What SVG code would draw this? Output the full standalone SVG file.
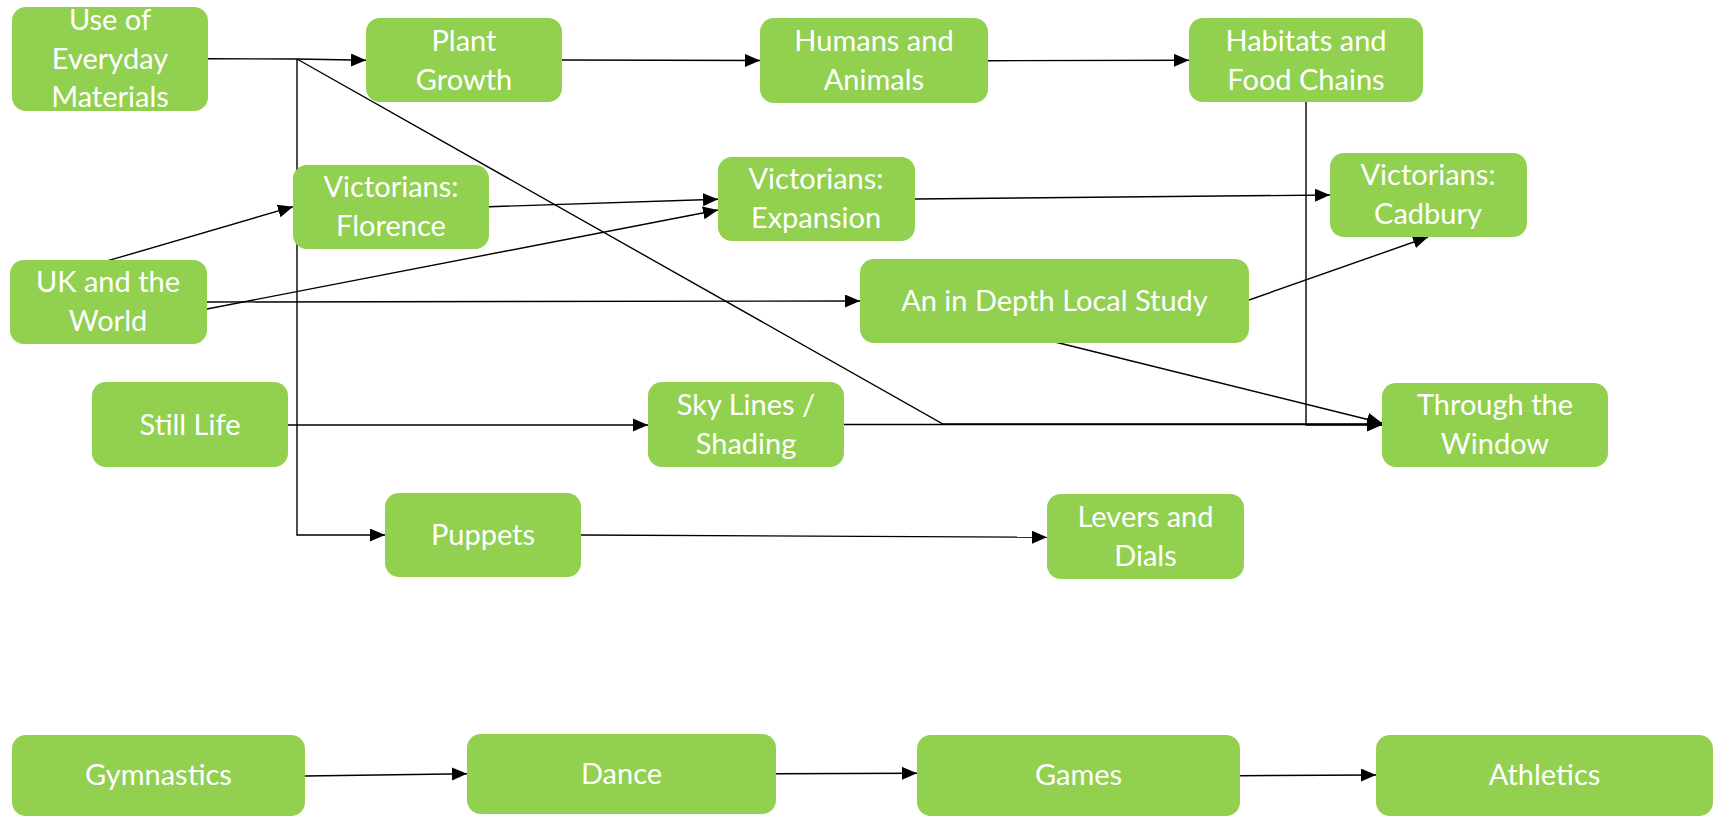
<svg xmlns="http://www.w3.org/2000/svg" width="1716" height="818" viewBox="0 0 1716 818">
<style>
.n rect{fill:#92D050;}
.n text{fill:#fff;font-family:Lato,"Open Sans",sans-serif;font-size:29px;text-anchor:middle;}
.c path{fill:none;stroke:#000;stroke-width:1.4;}
.a{marker-end:url(#ah);}
</style>
<defs>
<marker id="ah" markerUnits="userSpaceOnUse" markerWidth="16" markerHeight="14" refX="15" refY="6.5" orient="auto">
<path d="M0,0 L15,6.5 L0,13 z" fill="#000"/>
</marker>
</defs>
<g id="connectors" class="c">
<path class="a" d="M207,58.7 L297,59 L366,60.3"/>
<path class="a" d="M297,59 V535 H385"/>
<path class="a" d="M297,59 L943,424 H1382"/>
<path class="a" d="M562,60 L760,60.5"/>
<path class="a" d="M988,60.7 L1189,60.3"/>
<path class="a" d="M1306,102 V425 H1382"/>
<path class="a" d="M108,260.7 L293,206.7"/>
<path class="a" d="M207,309 L718,210"/>
<path class="a" d="M207,302 L860,301"/>
<path class="a" d="M489,206.7 L718,199.3"/>
<path class="a" d="M915,199 L1330,195"/>
<path class="a" d="M1249,300 L1428,237"/>
<path class="a" d="M1055,342 L1382,423"/>
<path class="a" d="M288,425 L648,425"/>
<path class="a" d="M844,424.5 L1382,424.5"/>
<path class="a" d="M581,535 L1047,537.3"/>
<path class="a" d="M305,776 L467,773.7"/>
<path class="a" d="M776,773.7 L917,773.3"/>
<path class="a" d="M1240,775.7 L1376,775"/>
</g>
<g id="n1" class="n"><rect x="12" y="7" width="196" height="104" rx="14"/><text x="110" y="30">Use of</text><text x="110" y="69">Everyday</text><text x="110" y="107">Materials</text></g>
<g id="n2" class="n"><rect x="366" y="18" width="196" height="84" rx="14"/><text x="464" y="51">Plant</text><text x="464" y="90">Growth</text></g>
<g id="n3" class="n"><rect x="760" y="18" width="228" height="85" rx="14"/><text x="874" y="51">Humans and</text><text x="874" y="90">Animals</text></g>
<g id="n4" class="n"><rect x="1189" y="18" width="234" height="84" rx="14"/><text x="1306" y="51">Habitats and</text><text x="1306" y="90">Food Chains</text></g>
<g id="n5" class="n"><rect x="293" y="165" width="196" height="84" rx="14"/><text x="391" y="197">Victorians:</text><text x="391" y="236">Florence</text></g>
<g id="n6" class="n"><rect x="718" y="157" width="197" height="84" rx="14"/><text x="816" y="189">Victorians:</text><text x="816" y="228">Expansion</text></g>
<g id="n7" class="n"><rect x="1330" y="153" width="197" height="84" rx="14"/><text x="1428" y="185">Victorians:</text><text x="1428" y="224">Cadbury</text></g>
<g id="n8" class="n"><rect x="10" y="260" width="197" height="84" rx="14"/><text x="108" y="292">UK and the</text><text x="108" y="331">World</text></g>
<g id="n9" class="n"><rect x="860" y="259" width="389" height="84" rx="14"/><text x="1054.5" y="311">An in Depth Local Study</text></g>
<g id="n10" class="n"><rect x="92" y="382" width="196" height="85" rx="14"/><text x="190" y="435">Still Life</text></g>
<g id="n11" class="n"><rect x="648" y="382" width="196" height="85" rx="14"/><text x="746" y="415">Sky Lines /</text><text x="746" y="454">Shading</text></g>
<g id="n12" class="n"><rect x="1382" y="383" width="226" height="84" rx="14"/><text x="1495" y="415">Through the</text><text x="1495" y="454">Window</text></g>
<g id="n13" class="n"><rect x="385" y="493" width="196" height="84" rx="14"/><text x="483" y="545">Puppets</text></g>
<g id="n14" class="n"><rect x="1047" y="494" width="197" height="85" rx="14"/><text x="1145.5" y="527">Levers and</text><text x="1145.5" y="566">Dials</text></g>
<g id="n15" class="n"><rect x="12" y="735" width="293" height="81" rx="14"/><text x="158.5" y="785">Gymnastics</text></g>
<g id="n16" class="n"><rect x="467" y="734" width="309" height="80" rx="14"/><text x="621.5" y="784">Dance</text></g>
<g id="n17" class="n"><rect x="917" y="735" width="323" height="81" rx="14"/><text x="1078.5" y="785">Games</text></g>
<g id="n18" class="n"><rect x="1376" y="735" width="337" height="81" rx="14"/><text x="1544.5" y="785">Athletics</text></g>
</svg>
